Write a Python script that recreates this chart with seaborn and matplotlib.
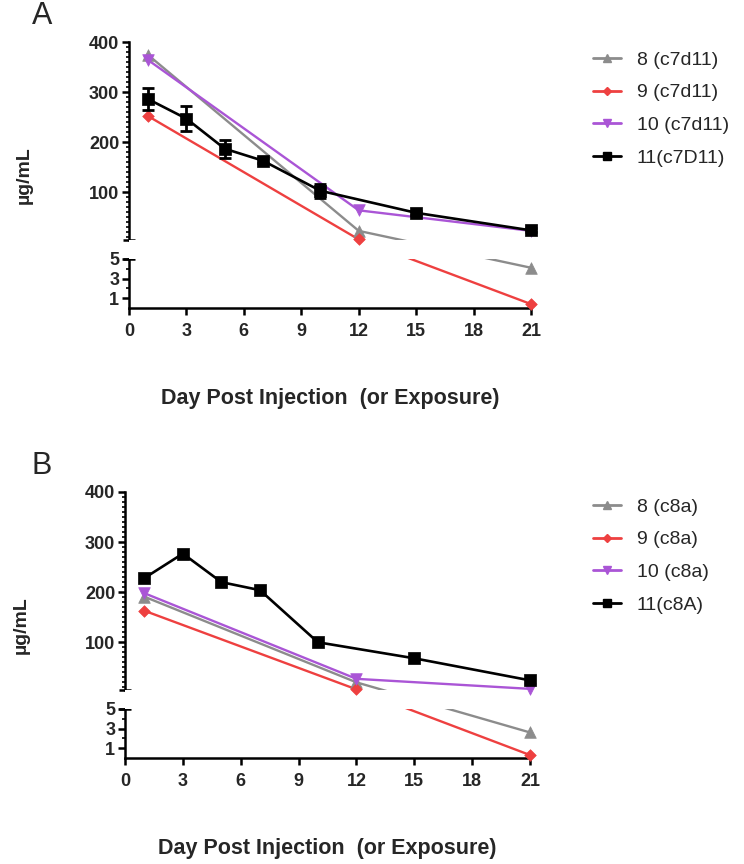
import matplotlib
matplotlib.use('Agg')
import matplotlib.pyplot as plt
from matplotlib.lines import Line2D
from matplotlib.ticker import FixedLocator
import seaborn as sns
import numpy as np
import pandas as pd

# ---- data ----
days_short = [1, 12, 21]
days_11 = [1, 3, 5, 7, 10, 15, 21]

# panel A (c7d11)
a8 = [374, 23, 4.1]
a9 = [252, 6, 0.4]
a10 = [364, 64, 23]
a11 = [286, 247, 187, 163, 103, 59, 24]
a11_err = [22, 25, 18, 5, 14, 4, 4]

# panel B (c8a)
b8 = [191, 20, 2.6]
b9 = [163, 6, 0.3]
b10 = [198, 27, 7]
b11 = [228, 277, 220, 204, 100, 68, 24]

labels_a = ['8 (c7d11)', '9 (c7d11)', '10 (c7d11)', '11(c7D11)']
labels_b = ['8 (c8a)', '9 (c8a)', '10 (c8a)', '11(c8A)']

colors = ['#8c8c8c', '#ee4040', '#aa55d6', '#000000']
markers = ['^', 'D', 'v', 's']
msizes = [70, 35, 70, 70]
lwidths = [1.7, 1.7, 1.7, 1.9]

y_major = [1, 3, 5, 100, 200, 300, 400]
y_minor = [2, 4] + [m for m in range(10, 400, 10) if m % 100]
x_major = [0, 3, 6, 9, 12, 15, 18, 21]

# broken y axis: 0-5 below the break, 5-400 above it
LOW_TOP = 5
LOW_PX = 9.8
GAP_PX = 19
HIGH_PX = 0.5


def fwd(v):
    v = np.asarray(v, dtype=float)
    return np.where(v <= LOW_TOP, v * LOW_PX,
                    LOW_TOP * LOW_PX + GAP_PX + (v - LOW_TOP) * HIGH_PX)


def inv(p):
    p = np.asarray(p, dtype=float)
    lo = LOW_TOP * LOW_PX
    return np.where(p <= lo, p / LOW_PX,
                    np.where(p < lo + GAP_PX, LOW_TOP,
                             LOW_TOP + (p - lo - GAP_PX) / HIGH_PX))


sns.set_style('ticks')
plt.rcParams['font.family'] = ['Liberation Sans', 'DejaVu Sans']

fig = plt.figure(figsize=(7.44, 8.64), dpi=100)


def panel(rect, series, labels, err, letter, letter_xy, legend_xy, ylab_x):
    ax = fig.add_axes(rect)
    for i, (d, v) in enumerate(series):
        df = pd.DataFrame({'day': d, 'val': v})
        sns.lineplot(data=df, x='day', y='val', color=colors[i], lw=lwidths[i],
                     ax=ax, zorder=2, clip_on=False)
    # white band hides lines inside the break
    ax.axhspan(LOW_TOP, LOW_TOP + 1e-4, color='white', lw=0, zorder=3)
    for i, (d, v) in enumerate(series):
        df = pd.DataFrame({'day': d, 'val': v})
        sns.scatterplot(data=df, x='day', y='val', color=colors[i], marker=markers[i],
                        s=msizes[i], edgecolor=colors[i], linewidth=0.5,
                        ax=ax, zorder=4, clip_on=False)
    if err is not None:
        d, v = series[3]
        ax.errorbar(d, v, yerr=err, fmt='none', ecolor='black', elinewidth=2,
                    capsize=4, capthick=2, zorder=4, clip_on=False)

    ax.set_yscale('function', functions=(fwd, inv))
    ax.set_ylim(0, 400)
    ax.set_xlim(0, 21)

    ax.spines['top'].set_visible(False)
    ax.spines['left'].set_bounds(LOW_TOP + 1e-4, 400)
    ax.spines['right'].set_position(('axes', 0))
    ax.spines['right'].set_bounds(0, LOW_TOP)
    ax.spines['bottom'].set_bounds(0, 21)
    for s in ['left', 'right', 'bottom']:
        ax.spines[s].set_linewidth(1.8)
        ax.spines[s].set_color('black')
    ax.yaxis.set_ticks_position('left')

    ax.set_yticks(y_major, labels=[str(t) for t in y_major], fontweight='bold', fontsize=13)
    ax.yaxis.set_minor_locator(FixedLocator(y_minor))
    ax.set_xticks(x_major, labels=[str(t) for t in x_major], fontweight='bold', fontsize=13)
    ax.tick_params(which='major', length=5, width=1.8, pad=2, color='black')
    ax.tick_params(axis='x', which='major', pad=6)
    ax.tick_params(which='minor', length=2.5, width=1.2, color='black')

    # end caps at the break
    for yv in [LOW_TOP, LOW_TOP + 1e-4]:
        ax.plot([-0.016, 0.016], [yv, yv], transform=ax.get_yaxis_transform(),
                color='black', lw=1.8, clip_on=False, solid_capstyle='butt')

    ax.set_ylabel('µg/mL', fontsize=14, fontweight='bold')
    ax.yaxis.set_label_coords(ylab_x, 0.5)
    ax.set_xlabel('Day Post Injection  (or Exposure)', fontsize=15.5, fontweight='bold')
    ax.xaxis.set_label_coords(0.5, -0.3)

    handles = [Line2D([], [], color=colors[i], marker=markers[i], lw=2,
                      markersize=5.5 if markers[i] != 'D' else 4.5)
               for i in range(4)]
    ax.legend(handles, labels, loc='upper left', bbox_to_anchor=legend_xy,
              bbox_transform=fig.transFigure, frameon=False, fontsize=14,
              handlelength=1.45, handletextpad=0.8, labelspacing=0.78,
              borderpad=0, borderaxespad=0)

    fig.text(letter_xy[0], letter_xy[1], letter, fontsize=22, ha='center', va='center')
    return ax


panel([129 / 744, 0.6435, 402 / 744, 266 / 864],
      [(days_short, a8), (days_short, a9), (days_short, a10), (days_11, a11)],
      labels_a, a11_err, 'A', (42 / 744, 1 - 16 / 864), (593 / 744, 1 - 51 / 864), -0.239)

panel([125 / 744, 0.1227, 405 / 744, 266 / 864],
      [(days_short, b8), (days_short, b9), (days_short, b10), (days_11, b11)],
      labels_b, None, 'B', (42 / 744, 1 - 466 / 864), (593 / 744, 1 - 498 / 864), -0.235)

fig.savefig('out.png', dpi=100)
